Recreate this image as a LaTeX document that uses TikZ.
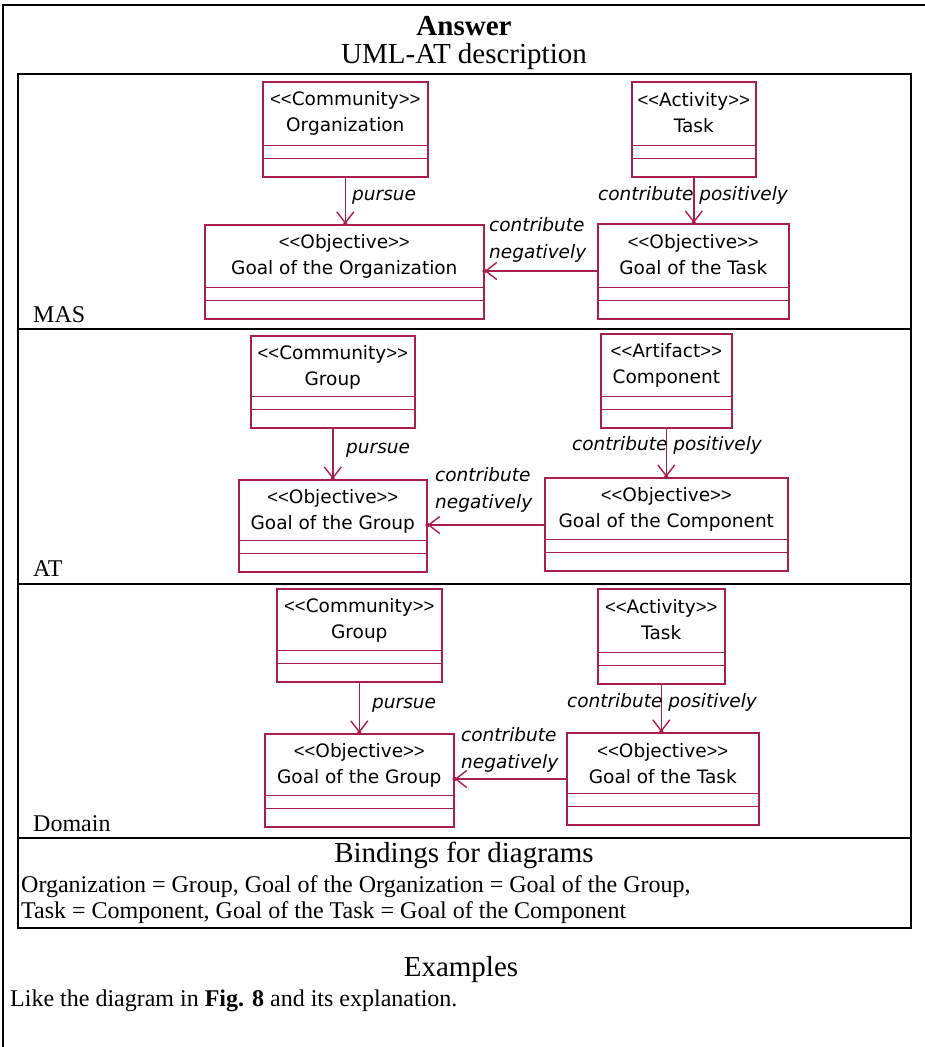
\documentclass[tikz,border=0pt]{standalone}
\usepackage{fontspec}
\setmainfont{Liberation Serif}
\newfontfamily\umlfont{DejaVu Sans}
\newfontfamily\anglefont{Liberation Sans}
\usetikzlibrary{arrows.meta,decorations.markings,calc}

\definecolor{umlred}{RGB}{170,30,74}

% stereotype brackets, set apart so no ligature turns them into guillemets
\newcommand\umlL{{\anglefont<\kern0pt<}}
\newcommand\umlR{{\anglefont>\kern0pt>}}

\tikzset{
  rule/.style={draw=black, line width=1.3pt},
  umlbox/.style={draw=umlred, line width=1.6pt, anchor=north west, inner sep=0pt},
  umlsep/.style={draw=umlred, line width=1.6pt},
  umltext/.style={font=\umlfont\fontsize{18.5}{26}\selectfont, align=center, inner sep=0pt},
  umllabel/.style={font=\umlfont\itshape\fontsize{18.5}{27}\selectfont, inner sep=0pt},
  umlarrow/.style={draw=umlred, line width=1.4pt,
    -{Straight Barb[length=11pt,width=17pt,line width=1.4pt]},
    postaction={decorate},
    decoration={markings, mark=at position 1 with {\fill[umlred] (0,0) circle (2.2pt);}}},
  body/.style={font=\fontsize{24}{26}\selectfont, inner sep=0pt},
  head/.style={font=\fontsize{29}{30}\selectfont, inner sep=0pt},
}

% UML class: name, left, top, width, height, stereotype, title
\newcommand\umlclass[7]{%
  \node[umlbox, minimum width=#4pt, minimum height=#5pt] (#1) at (#2,#3) {};
  \draw[umlsep] ([yshift=32pt]#1.south west) -- ([yshift=32pt]#1.south east);
  \draw[umlsep] ([yshift=19pt]#1.south west) -- ([yshift=19pt]#1.south east);
  \node[umltext] (#1-text) at ([yshift=-32pt]#1.north) {#6\\#7};
}

\begin{document}
\begin{tikzpicture}[x=1pt,y=-1pt]
\useasboundingbox (0,0) rectangle (925,1047);

% page frame, open to the right and below
\draw[rule, line width=1.1pt] (925,5) -- (3,5) -- (3,1047);

% header
\node[head, anchor=base] (answer) at (464,35) {\bfseries Answer};
\node[head, anchor=base] (desc) at (464,63) {UML-AT description};

% inner table
\draw[rule] (18,74) rectangle (911,928);
\draw[rule] (18,329) -- (911,329);
\draw[rule] (18,584) -- (911,584);
\draw[rule] (18,838) -- (911,838);

% ---- MAS ----
\umlclass{org}{262}{81}{165}{95}{\umlL Community\umlR}{Organization}
\umlclass{goalorg}{204}{224}{279}{94}{\umlL Objective\umlR}{Goal of the Organization}
\umlclass{task}{631}{81}{124}{95}{\umlL Activity\umlR}{Task}
\umlclass{goaltask}{597}{223}{191}{95}{\umlL Objective\umlR}{Goal of the Task}
\draw[umlarrow] (org.south) -- (org.south |- goalorg.north);
\draw[umlarrow] (task.south) -- (task.south |- goaltask.north);
\coordinate (negA) at ([yshift=-48pt]goaltask.north west);
\draw[umlarrow] (negA) -- (negA -| goalorg.east);
\node[umllabel, anchor=west] (purA) at (352,197) {pursue};
\node[umllabel] (posA) at (693,195) {contribute positively};
\node[umllabel, anchor=west, align=left] (negAl) at (489,240) {contribute\\negatively};
\node[body, anchor=base west] (mas) at (33,322) {MAS};

% ---- AT ----
\umlclass{grp}{250}{335}{164}{92}{\umlL Community\umlR}{Group}
\umlclass{goalgrp}{238}{479}{188}{92}{\umlL Objective\umlR}{Goal of the Group}
\umlclass{comp}{600}{333}{131}{94}{\umlL Artifact\umlR}{Component}
\umlclass{goalcomp}{544}{477}{243}{93}{\umlL Objective\umlR}{Goal of the Component}
\draw[umlarrow] (grp.south) -- (grp.south |- goalgrp.north);
\draw[umlarrow] (comp.south) -- (comp.south |- goalcomp.north);
\coordinate (negB) at ([yshift=-48pt]goalcomp.north west);
\draw[umlarrow] (negB) -- (negB -| goalgrp.east);
\node[umllabel, anchor=west] (purB) at (346,450) {pursue};
\node[umllabel] (posB) at (667,445) {contribute positively};
\node[umllabel, anchor=west, align=left] (negBl) at (435,490) {contribute\\negatively};
\node[body, anchor=base west] (at) at (33,576) {AT};

% ---- Domain ----
\umlclass{dgrp}{276}{588}{165}{93}{\umlL Community\umlR}{Group}
\umlclass{dgoalgrp}{264}{733}{189}{93}{\umlL Objective\umlR}{Goal of the Group}
\umlclass{dtask}{597}{588}{127}{95}{\umlL Activity\umlR}{Task}
\umlclass{dgoaltask}{566}{732}{192}{92}{\umlL Objective\umlR}{Goal of the Task}
\draw[umlarrow] (dgrp.south) -- (dgrp.south |- dgoalgrp.north);
\draw[umlarrow] (dtask.south) -- (dtask.south |- dgoaltask.north);
\coordinate (negC) at ([yshift=-47pt]dgoaltask.north west);
\draw[umlarrow] (negC) -- (negC -| dgoalgrp.east);
\node[umllabel, anchor=west] (purC) at (372,705) {pursue};
\node[umllabel] (posC) at (662,702) {contribute positively};
\node[umllabel, anchor=west, align=left] (negCl) at (461,750) {contribute\\negatively};
\node[body, anchor=base west] (dom) at (33,831) {Domain};

% ---- bindings ----
\node[head, anchor=base] (bind) at (464,862) {Bindings for diagrams};
\node[body, anchor=base west] (bind1) at (21,892) {Organization = Group, Goal of the Organization = Goal of the Group,};
\node[body, anchor=base west] (bind2) at (21,918) {Task = Component, Goal of the Task = Goal of the Component};

% ---- examples ----
\node[head, anchor=base] (ex) at (461,976) {Examples};
\node[body, anchor=base west] (like) at (10,1006) {Like the diagram in \textbf{Fig. 8} and its explanation.};
\end{tikzpicture}
\end{document}
